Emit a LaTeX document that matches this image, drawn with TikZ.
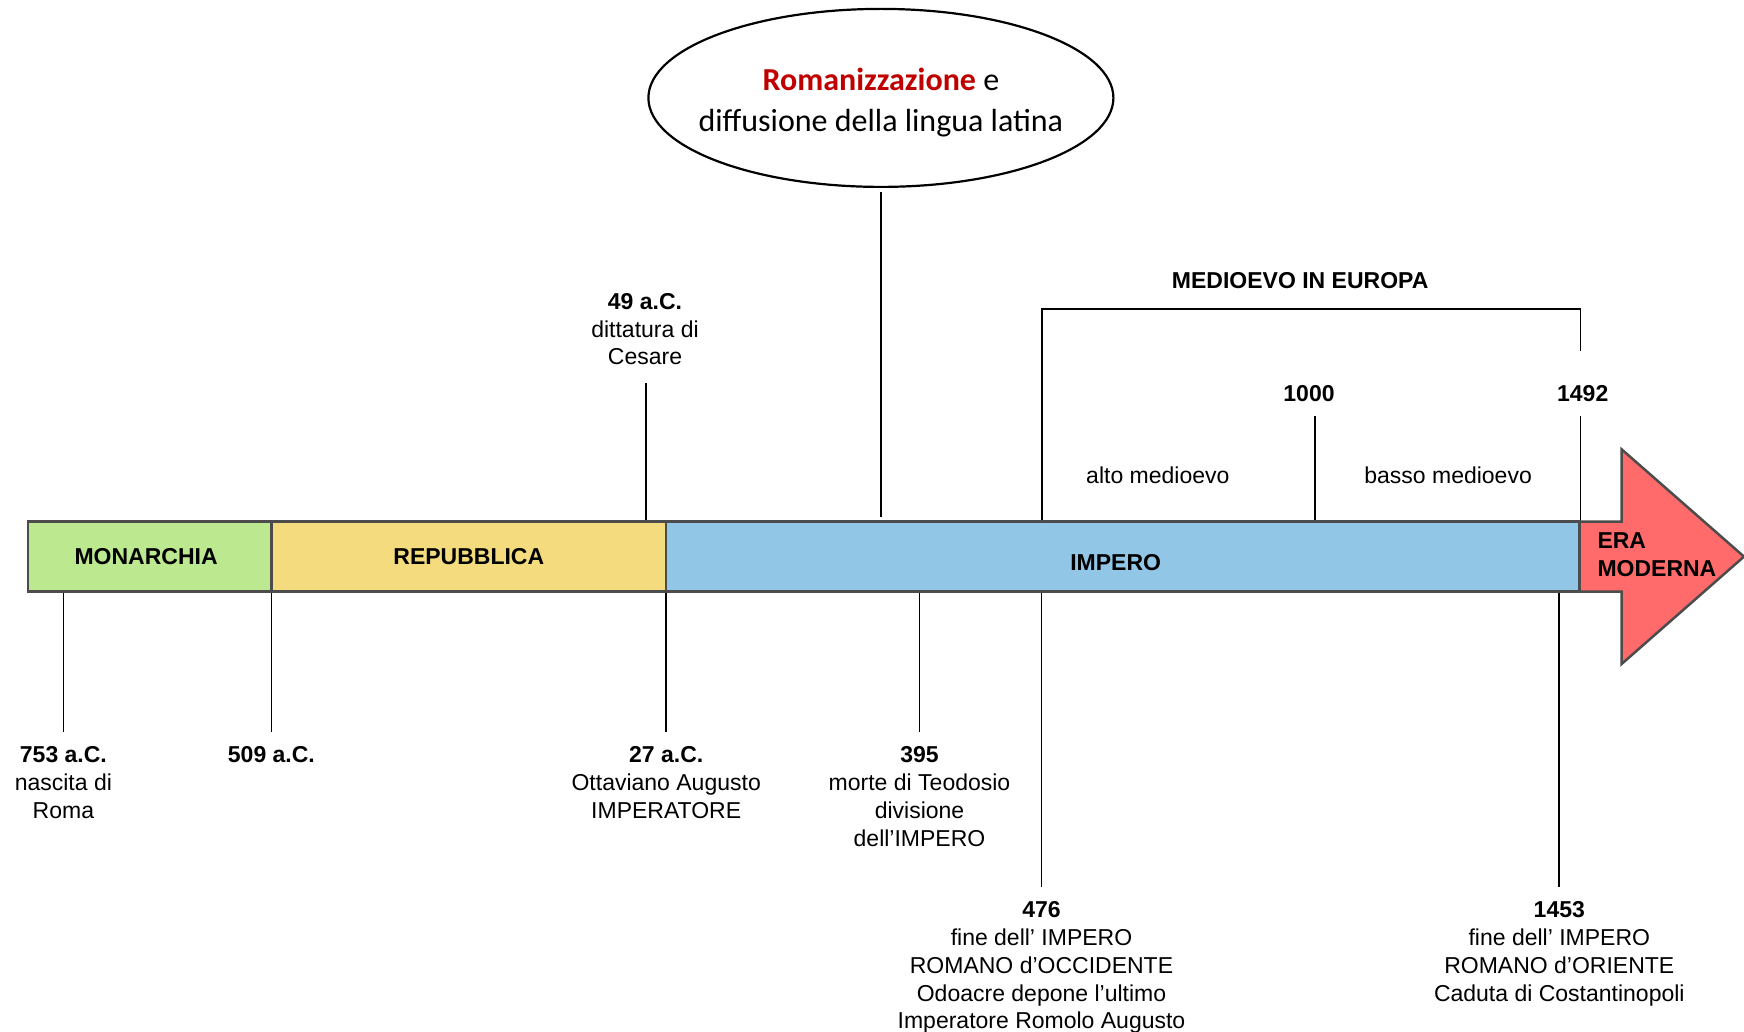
\documentclass[tikz,border=0pt]{standalone}
\usepackage{fontspec}
\setmainfont{Liberation Sans}
\newfontfamily\calibri{Carlito}
\usetikzlibrary{positioning,shapes.geometric}
\definecolor{mongreen}{RGB}{188,232,143}
\definecolor{repyellow}{RGB}{244,220,126}
\definecolor{impblue}{RGB}{146,198,230}
\definecolor{modred}{RGB}{255,107,107}
\definecolor{romred}{RGB}{192,0,0}
\begin{document}
\begin{tikzpicture}[x=1pt, y=-1pt,
    period/.style={draw=black!70, line width=2.5pt, minimum height=70pt, inner sep=0pt,
      font=\bfseries\fontsize{23}{27.8}\selectfont},
    datelabel/.style={align=center, anchor=north, inner sep=0pt, font=\fontsize{23}{27.8}\selectfont},
    toplabel/.style={inner sep=0pt, font=\fontsize{23}{27.8}\selectfont},
    tick/.style={line width=1.8pt}]
\useasboundingbox (0,0) rectangle (1744,1032);
%
    % era moderna arrow
    \draw[draw=black!70, line width=2.5pt, fill=modred, line join=miter]
      (1579.3,521.6) -- (1621.6,521.6) -- (1621.6,449.3) -- (1744,556.6)
      -- (1621.6,664) -- (1621.6,591.7) -- (1579.3,591.7) -- cycle;
    \node[anchor=west, align=left, inner sep=0pt, font=\bfseries\fontsize{23}{27.8}\selectfont]
      (era) at (1597.3,555) {ERA\\MODERNA};
%
    \node[period, fill=mongreen,  minimum width=243.6pt] (mon) at (149.6,556.6) {\hspace*{-7pt}MONARCHIA};
    \node[period, fill=repyellow, minimum width=394.8pt] (rep) at (468.8,556.6) {REPUBBLICA};
    \node[period, fill=impblue,   minimum width=913.1pt, text height=28pt, text depth=0pt]
      (imp) at (1122.7,556.6) {\hspace*{-14pt}IMPERO};
%
    \node[ellipse, draw, line width=2.2pt, minimum width=465pt, minimum height=178pt,
      inner xsep=-18pt, inner ysep=0pt, outer sep=0pt, align=center,
      font=\calibri\fontsize{32}{41.2}\selectfont]
      (roman) at (880.9,97.9)
      {\rule{0pt}{32pt}{\color{romred}\bfseries Romanizzazione} e\\diffusione della lingua latina};
    \draw[tick, shorten <=5pt, shorten >=3pt] (roman.south) -- (roman.south |- imp.north);
%
    % dates below the bar
    \node[datelabel] (l753) at (63.4,746.7) {\textbf{753 a.C.}\\nascita di\\Roma};
    \node[datelabel] (l509) at (271.4,746.7) {\textbf{509 a.C.}};
    \node[datelabel] (l27) at (666.2,746.7) {\textbf{27 a.C.}\\Ottaviano Augusto\\IMPERATORE};
    \node[datelabel] (l395) at (919.5,746.7) {\textbf{395}\\morte di Teodosio\\divisione\\dell’IMPERO};
    \node[datelabel] (l476) at (1041.5,901.5)
      {\textbf{476}\\fine dell’ IMPERO\\ROMANO d’OCCIDENTE\\Odoacre depone l’ultimo\\Imperatore Romolo Augusto};
    \node[datelabel] (l1453) at (1559.3,901.5)
      {\textbf{1453}\\fine dell’ IMPERO\\ROMANO d’ORIENTE\\Caduta di Costantinopoli};
    \foreach \d in {l753,l509,l27,l395}
      \draw[tick, shorten >=15pt] (\d.north |- mon.south) -- (\d.north);
    \foreach \d in {l476,l1453}
      \draw[tick, shorten >=15pt] (\d.north |- imp.south) -- (\d.north);
%
    % dates above the bar
    \node[datelabel] (l49) at (645,293.1) {\textbf{49 a.C.}\\dittatura di\\Cesare};
    \draw[tick, shorten <=18pt] (l49.south -| 646.2,0) -- (646.2,0 |- rep.north);
    \node[toplabel, font=\bfseries\fontsize{23}{27.8}\selectfont] (l1000) at (1309,393.3) {1000};
    \node[toplabel, font=\bfseries\fontsize{23}{27.8}\selectfont] (l1492) at (1582.7,393.3) {1492};
    \draw[tick, shorten <=14pt] (l1000.south -| 1314.6,0) -- (1314.6,0 |- imp.north);
%
    % medioevo bracket
    \coordinate (bl) at (1042.1,309.3);
    \coordinate (br) at (1580.4,309.3);
    \draw[tick] (bl |- imp.north) -- (bl) -- (br) -- (br |- l1492.north) [shorten >=34pt];
    \draw[tick, shorten <=14pt] (br |- l1492.south) -- (br |- imp.north);
    \node[toplabel, font=\bfseries\fontsize{23}{27.8}\selectfont] (medio) at (1300.2,280.7) {MEDIOEVO IN EUROPA};
    \node[toplabel] (alto) at (1157.8,474.9) {alto medioevo};
    \node[toplabel] (basso) at (1448.1,474.9) {basso medioevo};
\end{tikzpicture}
\end{document}
